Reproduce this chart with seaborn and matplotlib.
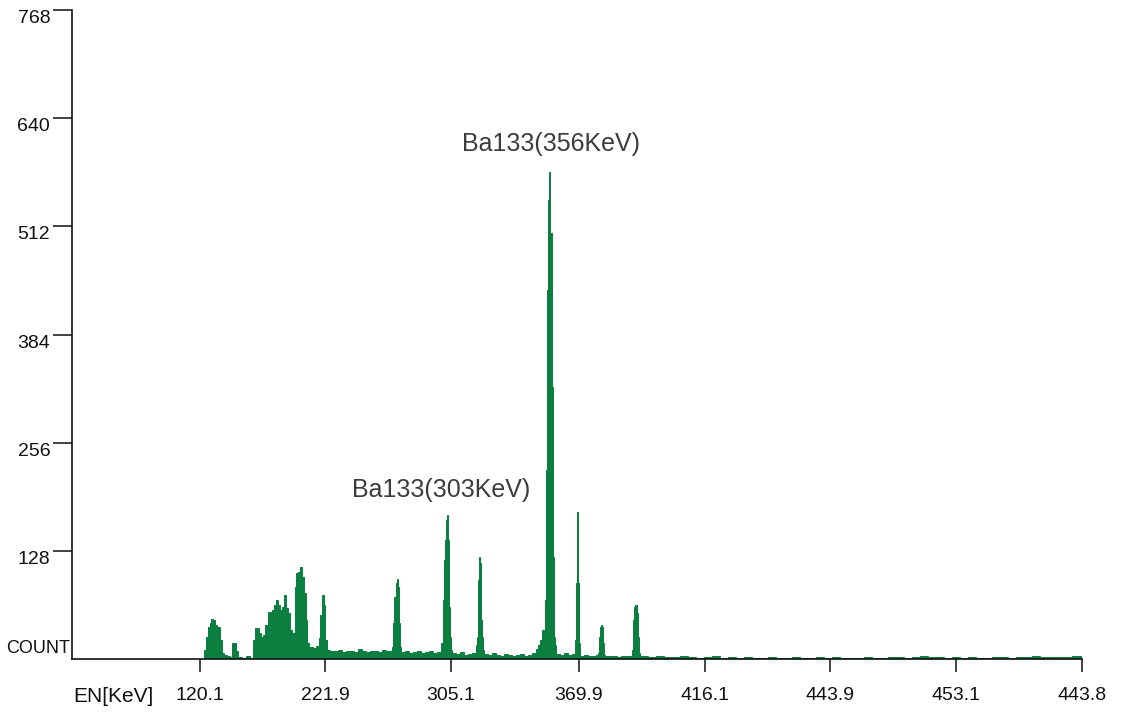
import numpy as np
import pandas as pd
import matplotlib
matplotlib.use("Agg")
import matplotlib.pyplot as plt
import seaborn as sns

# ---- data (channel left edges and counts) ----
bin_left = [
    0, 132, 134, 136, 138, 139, 141, 143, 145, 147, 148, 150, 152, 155, 158,
    160, 162, 164, 166, 170, 174, 178,
    181, 183, 185, 187, 189, 191, 193, 196, 198, 200, 202, 204, 206, 208, 210,
    212, 214, 216, 218, 220, 222, 223, 224, 226, 228, 230, 232, 234, 235, 237,
    241, 244, 247, 248, 250, 252, 253, 255,
    258, 262, 266, 270, 274, 278, 282, 286, 290, 294, 298, 302, 306, 310, 314,
    318, 320, 321, 322, 324, 325, 326, 327, 328,
    329, 333, 337, 341, 345, 349, 353, 357, 361, 365,
    369, 371, 372, 373, 374, 375, 376, 377, 378, 379,
    380, 384, 388, 392, 396, 400,
    404, 405, 406, 407, 408, 409, 410, 411,
    412, 416, 420, 424, 428, 432, 436, 440, 444, 448, 452, 456, 460,
    464, 466, 468, 470, 472, 473, 474, 475, 476, 477, 478, 479, 480, 481, 482, 483,
    484, 488, 492, 496, 500,
    503, 504, 505, 506, 507,
    508, 512, 516, 520, 524,
    526, 527, 528, 529, 530, 531, 532,
    533, 537, 541, 545, 549, 553, 557,
    560, 561, 562, 563, 564, 565, 566, 567,
    568, 576, 584, 592, 600, 608, 616, 624, 632, 640, 648, 656, 664, 672, 680,
    688, 696, 704, 712, 720, 728, 736, 744, 752, 760, 768, 776, 784, 792, 800,
    808, 816, 824, 832, 840, 848, 856, 864, 872, 880, 888, 896, 904, 912, 920,
    928, 936, 944, 952, 960, 968, 976, 984, 992, 1000, 1008,
]
bin_end = 1010
counts = [
    0, 11, 26, 38, 43, 47, 46, 40, 38, 38, 22, 7, 5, 4, 2,
    19, 19, 10, 2, 1, 3, 1,
    22, 37, 37, 31, 26, 28, 40, 56, 56, 58, 64, 70, 64, 58, 62,
    76, 60, 54, 34, 31, 31, 85, 102, 103, 109, 97, 78, 46, 19, 14,
    13, 15, 25, 52, 76, 64, 22, 11,
    10, 9, 11, 8, 9, 10, 8, 12, 9, 8, 10, 9, 8, 11, 9,
    10, 14, 43, 73, 90, 95, 85, 43, 14,
    8, 9, 7, 8, 10, 7, 8, 9, 7, 8,
    19, 70, 117, 141, 164, 170, 141, 62, 26, 11,
    7, 6, 8, 5, 6, 7,
    17, 26, 93, 121, 114, 46, 26, 11,
    6, 5, 7, 5, 4, 6, 5, 4, 5, 6, 4, 5, 7,
    12, 17, 22, 34, 27, 70, 224, 437, 543, 576, 504, 504, 322, 121, 26, 17,
    6, 5, 7, 5, 6,
    22, 90, 174, 90, 19,
    4, 5, 3, 4, 5,
    7, 26, 38, 40, 38, 19, 5,
    3, 4, 3, 2, 4, 3, 3,
    11, 46, 62, 64, 64, 54, 26, 7,
    3, 2, 3, 2, 2, 3, 2, 1, 2, 3, 1, 2, 1, 2, 1,
    1, 2, 1, 1, 2, 1, 1, 2, 1, 2, 1, 1, 1, 2, 1,
    1, 2, 2, 1, 2, 3, 2, 2, 1, 2, 1, 2, 1, 1, 2,
    2, 1, 2, 2, 3, 2, 2, 2, 2, 3, 4,
]

xtick_pos = [128, 253, 379, 507, 633, 758, 884, 1010]
xtick_labels = ["120.1", "221.9", "305.1", "369.9", "416.1", "443.9", "453.1", "443.8"]
ytick_pos = [128, 256, 384, 512, 640, 768]
ytick_labels = ["128", "256", "384", "512", "640", "768"]

peak_labels = ["Ba133(356KeV)", "Ba133(303KeV)"]
peak_label_x = [479, 369]
peak_label_y = [610, 200]

# ---- plotting ----
sns.set_theme(style="white")
plt.rcParams["font.family"] = ["Liberation Sans", "DejaVu Sans"]

green = "#0a7f3f"
edges = [float(e) for e in bin_left + [bin_end]]
centers = [(a + b) / 2 for a, b in zip(edges[:-1], edges[1:])]
df = pd.DataFrame({"channel": centers, "count": counts})

fig = plt.figure(figsize=(11.21, 7.16), dpi=100)
ax = fig.add_axes([72 / 1121, 57 / 716, 1010 / 1121, 649 / 716])

sns.histplot(data=df, x="channel", weights="count", bins=edges,
             element="bars", fill=True, color=green, alpha=1,
             edgecolor=green, linewidth=0.7, ax=ax)

ax.set_xlim(0, 1010)
ax.set_ylim(0, 768)
ax.set_xlabel("")
ax.set_ylabel("")

ax.set_xticks(xtick_pos)
ax.set_xticklabels(xtick_labels)
ax.set_yticks(ytick_pos)
ax.set_yticklabels(ytick_labels)
for lab in ax.get_yticklabels():
    lab.set_verticalalignment("top")

ax.tick_params(axis="y", direction="out", length=13.7, width=1.1, pad=2,
               labelsize=14, left=True, colors="#111111")
ax.tick_params(axis="x", direction="out", length=9.4, width=1.1, pad=11,
               labelsize=14, bottom=True, colors="#111111")

sns.despine(ax=ax)
for s in ("left", "bottom"):
    ax.spines[s].set_color("#111111")
    ax.spines[s].set_linewidth(1.2)
    ax.spines[s].set_zorder(5)

ax.text(-2, 13, "COUNT", ha="right", va="center", fontsize=13,
        color="#111111", clip_on=False)
ax.text(1, -0.0431, "EN[KeV]", transform=ax.get_xaxis_transform(),
        ha="left", va="top", fontsize=15, color="#111111", clip_on=False)

for t, x, y in zip(peak_labels, peak_label_x, peak_label_y):
    ax.text(x, y, t, ha="center", va="center", fontsize=18, color="#3c3c3c")

fig.savefig("out.png", dpi=100)
